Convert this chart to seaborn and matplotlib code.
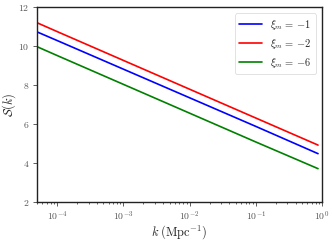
import numpy as np
import pandas as pd
import seaborn as sns
import matplotlib
matplotlib.use("Agg")
import matplotlib.pyplot as plt

# k values (Mpc^-1) and S(k)
k_vals = [5e-5, 1e-4, 1e-3, 1e-2, 1e-1, 0.87]
s_xi1 = [10.73, 10.29, 8.82, 7.35, 5.88, 4.48]
s_xi2 = [11.20, 10.75, 9.27, 7.79, 6.31, 4.92]
s_xi6 = [9.97, 9.52, 8.04, 6.56, 5.08, 3.71]
labels = [r"$\xi_m\,=\,{-1}$", r"$\xi_m\,=\,{-2}$", r"$\xi_m\,=\,{-6}$"]
colors = ["blue", "red", "green"]

df = pd.concat([
    pd.DataFrame({"k": k_vals, "S": s, "xi": lab})
    for s, lab in zip([s_xi1, s_xi2, s_xi6], labels)
])

sns.set_style("ticks")
plt.rcParams["font.family"] = "serif"
plt.rcParams["font.serif"] = ["cmr10", "DejaVu Serif"]
plt.rcParams["mathtext.fontset"] = "cm"
plt.rcParams["axes.formatter.use_mathtext"] = True

fig, ax = plt.subplots(figsize=(3.32, 2.41), dpi=100)
sns.lineplot(data=df, x="k", y="S", hue="xi", palette=colors, lw=1.2, ax=ax)
ax.set_xscale("log")
ax.set_xlim(5e-5, 1)
ax.set_ylim(2, 12)
ax.set_yticks([2, 4, 6, 8, 10, 12])
ax.set_xlabel(r"$k\;(\mathrm{Mpc}^{-1})$", fontsize=9, labelpad=0)
ax.set_ylabel(r"$\mathcal{S}(k)$", fontsize=9, labelpad=0)
ax.tick_params(labelsize=7, colors="#444444", labelcolor="#555555")
ax.tick_params(axis="both", which="major", length=3, width=0.6, pad=2.5)
ax.tick_params(axis="x", which="minor", length=1.5, width=0.5)
for sp in ax.spines.values():
    sp.set_linewidth(1.0)
    sp.set_color("#222222")
leg = ax.legend(loc="upper right", fontsize=7.5, frameon=True, handlelength=2.2,
                borderaxespad=0.6)
leg.get_frame().set_linewidth(0.5)

fig.subplots_adjust(left=0.112, right=0.97, top=0.97, bottom=0.162)
fig.savefig("out.png", dpi=100)
